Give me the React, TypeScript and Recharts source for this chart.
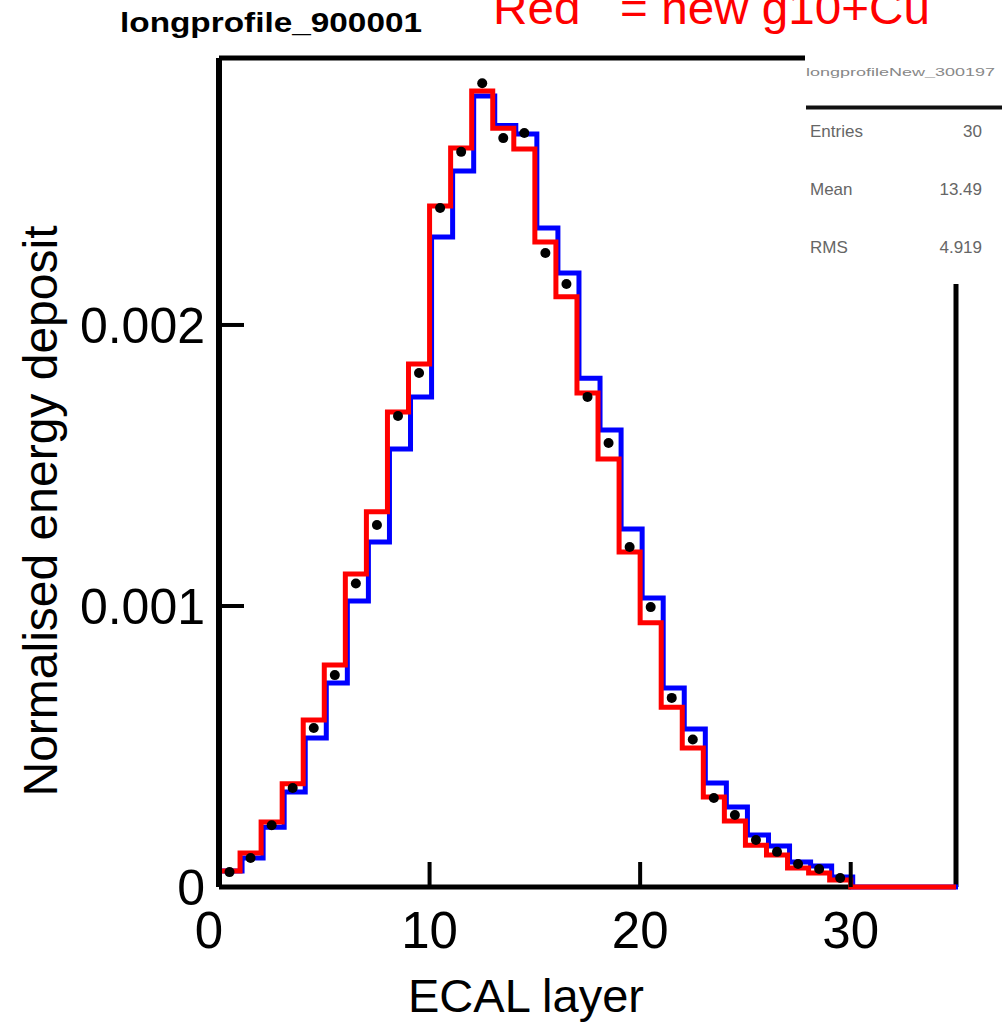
import { ComposedChart, Line, XAxis, YAxis, ReferenceLine } from 'recharts';

// normalised energy deposit per ECAL layer (units of 1e-4)
const redBins = [0.57, 1.21, 2.31, 3.67, 5.94, 7.9, 11.14, 13.35, 16.9, 18.61, 24.23, 26.3, 28.33, 27.0, 26.26, 22.95, 21.0, 17.58, 15.23, 11.92, 9.4, 6.4, 4.95, 3.2, 2.35, 1.49, 1.14, 0.68, 0.5, 0.25];
const blueBins = [0.57, 1.03, 2.13, 3.38, 5.3, 7.26, 10.18, 12.28, 15.59, 17.44, 23.13, 25.48, 28.15, 27.1, 26.8, 23.45, 21.85, 18.1, 16.26, 12.74, 10.28, 7.08, 5.62, 3.7, 2.85, 1.85, 1.46, 0.89, 0.75, 0.36];
const dataPoints = [0.53, 1.03, 2.2, 3.52, 5.66, 7.54, 10.8, 12.88, 16.76, 18.29, 24.16, 26.16, 28.6, 26.65, 26.83, 22.56, 21.46, 17.44, 15.8, 12.1, 9.96, 6.73, 5.25, 3.17, 2.56, 1.67, 1.25, 0.82, 0.64, 0.32];

const xTicks = [0, 10, 20, 30];
const yTicks = [0, 0.001, 0.002];
const yTickLabels = ['0', '0.001', '0.002'];

const statsNames = ['Entries', 'Mean', 'RMS'];
const statsValues = ['30', '13.49', '4.919'];

const X_MAX = 35;
const Y_MAX = 0.00295;
const N_BINS = redBins.length;
const FONT = '"Liberation Sans", Arial, Helvetica, sans-serif';

const stepData = [
  ...redBins.map((r, i) => ({ x: i, red: r * 1e-4, blue: blueBins[i] * 1e-4 })),
  { x: N_BINS, red: 0, blue: 0 },
  { x: X_MAX, red: 0, blue: 0 },
];
const pointData = dataPoints.map((p, i) => ({ x: i + 0.5, pt: p * 1e-4 }));

const XTick = (props: any) => {
  const { x, y, payload } = props;
  const dx = payload.value === 0 ? -10 : 0;
  return (
    <g>
      <line x1={x} x2={x} y1={y} y2={y - 25} stroke="#000" strokeWidth={4} />
      <text x={x + dx} y={y + 61} textAnchor="middle" fontFamily={FONT} fontSize={51} fill="#000">
        {payload.value}
      </text>
    </g>
  );
};

const YTick = (props: any) => {
  const { x, y, payload, index } = props;
  return (
    <g>
      <line x1={x} x2={x + 25} y1={y} y2={y} stroke="#000" strokeWidth={4} />
      <text x={x - 14} y={y} dy="0.36em" textAnchor="end" fontFamily={FONT} fontSize={50} fill="#000">
        {yTickLabels[index] ?? payload.value}
      </text>
    </g>
  );
};

export default function App() {
  return (
    <div style={{ position: 'absolute', left: 0, top: 0, width: 1008, height: 1023, background: '#fff', overflow: 'hidden' }}>
      <style>{`.blue-shift { transform: translate(2px, 0px); }`}</style>
      <ComposedChart
        width={1008}
        height={1023}
        margin={{ top: 58, right: 52, left: 119, bottom: 76 }}
      >
        <XAxis
          dataKey="x"
          type="number"
          domain={[0, X_MAX]}
          ticks={xTicks}
          height={60}
          tickSize={0}
          tickMargin={0}
          tickLine={false}
          axisLine={false}
          tick={<XTick />}
        />
        <YAxis
          type="number"
          domain={[0, Y_MAX]}
          ticks={yTicks}
          width={100}
          tickSize={0}
          tickMargin={0}
          tickLine={false}
          axisLine={{ stroke: '#000', strokeWidth: 6 }}
          tick={<YTick />}
        />
        {/* frame: bottom axis stops where the red empty bins take over */}
        <ReferenceLine segment={[{ x: 0, y: 0 }, { x: N_BINS, y: 0 }]} stroke="#000" strokeWidth={5} />
        <ReferenceLine y={Y_MAX} stroke="#000" strokeWidth={5} />
        <ReferenceLine x={X_MAX} stroke="#000" strokeWidth={5} />
        <Line
          data={stepData}
          dataKey="blue"
          type="stepAfter"
          stroke="#0000ff"
          strokeWidth={5}
          dot={false}
          className="blue-shift"
          isAnimationActive={false}
        />
        <Line
          data={stepData}
          dataKey="red"
          type="stepAfter"
          stroke="#ff0000"
          strokeWidth={5}
          dot={false}
          isAnimationActive={false}
        />
        <Line
          data={pointData}
          dataKey="pt"
          stroke="none"
          dot={{ r: 5, fill: '#000', stroke: 'none' }}
          isAnimationActive={false}
        />
      </ComposedChart>
      <svg width={1008} height={1023} style={{ position: 'absolute', left: 0, top: 0, pointerEvents: 'none' }}>
        <text x={120} y={32} fontFamily={FONT} fontWeight="bold" fontSize={28} textLength={302} lengthAdjust="spacingAndGlyphs" fill="#000">
          longprofile_900001
        </text>
        <text x={493} y={24} fontFamily={FONT} fontSize={47} textLength={437} lengthAdjust="spacingAndGlyphs" fill="#ff0000" xmlSpace="preserve">
          Red   = new g10+Cu
        </text>
        <rect x={805} y={40} width={203} height={244} fill="#fff" />
        <text x={806} y={76} fontFamily={FONT} fontSize={11} textLength={189} lengthAdjust="spacingAndGlyphs" fill="#888">
          longprofileNew_300197
        </text>
        <line x1={806} x2={1002} y1={107.5} y2={107.5} stroke="#111" strokeWidth={4} />
        {statsNames.map((n, i) => (
          <g key={n}>
            <text x={810} y={137 + i * 58} fontFamily={FONT} fontSize={17} fill="#666">{n}</text>
            <text x={982} y={137 + i * 58} fontFamily={FONT} fontSize={17} fill="#666" textAnchor="end">{statsValues[i]}</text>
          </g>
        ))}
        <text x={526} y={1012} textAnchor="middle" fontFamily={FONT} fontSize={47} fill="#000">
          ECAL layer
        </text>
        <text transform="translate(57, 511) rotate(-90)" textAnchor="middle" fontFamily={FONT} fontSize={48} fill="#000">
          Normalised energy deposit
        </text>
      </svg>
    </div>
  );
}
